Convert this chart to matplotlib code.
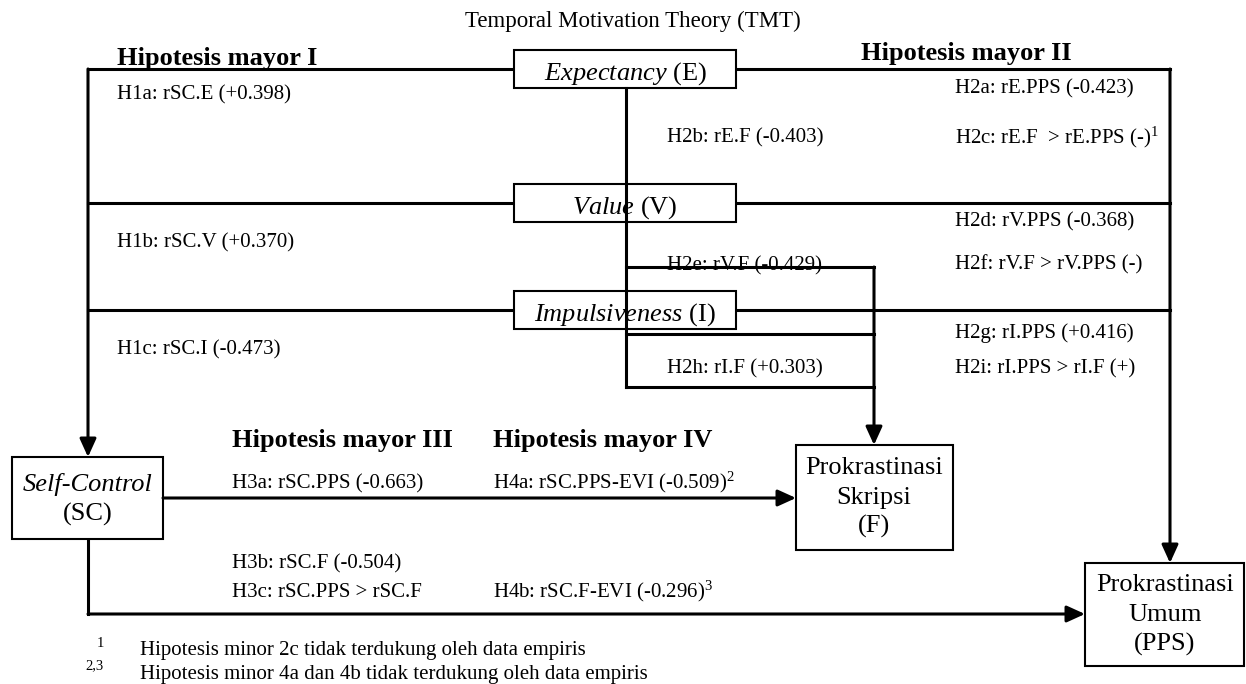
import matplotlib
matplotlib.use("Agg")
import matplotlib.pyplot as plt
from matplotlib.patches import Rectangle, FancyArrowPatch, ArrowStyle

plt.rcParams['font.family'] = ['Liberation Serif', 'DejaVu Serif']
plt.rcParams['mathtext.fontset'] = 'custom'
plt.rcParams['mathtext.rm'] = 'Liberation Serif'
plt.rcParams['mathtext.it'] = 'Liberation Serif:italic'
plt.rcParams['mathtext.bf'] = 'Liberation Serif:bold'

# ---------------- content ----------------
title = "Temporal Motivation Theory (TMT)"
predictor_names = ["Expectancy", "Value", "Impulsiveness"]
predictor_codes = ["E", "V", "I"]
headings = ["Hipotesis mayor I", "Hipotesis mayor II", "Hipotesis mayor III", "Hipotesis mayor IV"]
h1_labels = ["H1a: rSC.E (+0.398)", "H1b: rSC.V (+0.370)", "H1c: rSC.I (-0.473)"]
h2_pps_labels = ["H2a: rE.PPS (-0.423)", "H2c: rE.F  > rE.PPS (-)$^1$",
                 "H2d: rV.PPS (-0.368)", "H2f: rV.F > rV.PPS (-)",
                 "H2g: rI.PPS (+0.416)", "H2i: rI.PPS > rI.F (+)"]
h2_f_labels = ["H2b: rE.F (-0.403)", "H2e: rV.F (-0.429)", "H2h: rI.F (+0.303)"]
h3_labels = ["H3a: rSC.PPS (-0.663)", "H3b: rSC.F (-0.504)", "H3c: rSC.PPS > rSC.F"]
h4_labels = ["H4a: rSC.PPS-EVI (-0.509)$^2$", "H4b: rSC.F-EVI (-0.296)$^3$"]
sc_label = ["Self-Control", "(SC)"]
f_label = ["Prokrastinasi", "Skripsi", "(F)"]
pps_label = ["Prokrastinasi", "Umum", "(PPS)"]
footnote_marks = ["1", "2,3"]
footnotes = ["Hipotesis minor 2c tidak terdukung oleh data empiris",
             "Hipotesis minor 4a dan 4b tidak terdukung oleh data empiris"]

# ---------------- layout (pixels) ----------------
W, H = 1246, 684
fig = plt.figure(figsize=(W / 100, H / 100), dpi=100)
ax = fig.add_axes([0, 0, 1, 1])
ax.set_xlim(0, W)
ax.set_ylim(H, 0)
ax.axis('off')

LW = 2.2
BLW = 1.5
LBL = 15
BOX = 19
HEAD = 19

def line(xs, ys, z=2):
    ax.plot(xs, ys, color='black', lw=LW, solid_capstyle='projecting',
            solid_joinstyle='miter', zorder=z)

def arrow(p0, p1, z=3):
    ax.add_patch(FancyArrowPatch(p0, p1,
                                 arrowstyle=ArrowStyle('-|>', head_length=11, head_width=5),
                                 mutation_scale=1, shrinkA=0, shrinkB=0,
                                 color='black', lw=LW, zorder=z))

def box(x0, y0, x1, y1):
    ax.add_patch(Rectangle((x0, y0), x1 - x0, y1 - y0, facecolor='white',
                           edgecolor='black', lw=BLW, zorder=2))

# title
ax.text(633, 27, title, ha='center', va='baseline', fontsize=16.5)

# predictor boxes and connectors
pbx0, pbx1 = 514, 736
pcy = [69, 203, 310]
left_x, right_x = 88, 1170
for name, code, cy in zip(predictor_names, predictor_codes, pcy):
    line([left_x, pbx0], [cy, cy])
    line([pbx1, right_x], [cy, cy])
    box(pbx0, cy - 19, pbx1, cy + 19)
    ax.text(625, cy + 11, r"$\mathit{%s}$ (%s)" % (name, code), ha='center',
            va='baseline', fontsize=BOX, zorder=4)

# left vertical to SC
sc_box = (12, 457, 163, 539)
arrow((left_x, pcy[0]), (left_x, sc_box[1]))

# right vertical to PPS
pps_box = (1085, 563, 1244, 666)
arrow((right_x, pcy[0]), (right_x, pps_box[1]))

# inner connectors to F
cx = 626
fx = 874
f_box = (796, 445, 953, 550)
line([cx, cx], [88, 387], z=5)
for yy in [267, 334, 387]:
    line([cx, fx], [yy, yy], z=5)
arrow((fx, 267), (fx, f_box[1]), z=5)

# SC -> F
arrow((sc_box[2], 498), (f_box[0], 498))

# SC -> PPS
line([left_x, left_x], [sc_box[3], 614])
arrow((left_x, 614), (pps_box[0], 614))

# outcome boxes
box(*sc_box)
ax.text(88, 491, sc_label[0], ha='center', va='baseline', fontsize=BOX, style='italic', zorder=4)
ax.text(88, 521, sc_label[1], ha='center', va='baseline', fontsize=BOX, zorder=4)

box(*f_box)
for t, yb in zip(f_label, [474, 504, 533]):
    ax.text(874, yb, t, ha='center', va='baseline', fontsize=BOX, zorder=4)

box(*pps_box)
for t, yb in zip(pps_label, [591, 621, 651]):
    ax.text(1165, yb, t, ha='center', va='baseline', fontsize=BOX, zorder=4)

# headings
for t, (x, y) in zip(headings, [(117, 65), (861, 60), (232, 447), (493, 447)]):
    ax.text(x, y, t, ha='left', va='baseline', fontsize=HEAD, fontweight='bold', zorder=4)

# hypothesis labels
for t, y in zip(h1_labels, [99, 247, 354]):
    ax.text(117, y, t, ha='left', va='baseline', fontsize=LBL, zorder=4)
for t, y in zip(h2_pps_labels, [93, 143, 226, 269, 338, 373]):
    ax.text(955, y, t, ha='left', va='baseline', fontsize=LBL, zorder=4)
for t, y in zip(h2_f_labels, [142, 270, 373]):
    ax.text(667, y, t, ha='left', va='baseline', fontsize=LBL, zorder=4)
for t, y in zip(h3_labels, [488, 568, 597]):
    ax.text(232, y, t, ha='left', va='baseline', fontsize=LBL, zorder=4)
for t, y in zip(h4_labels, [488, 597]):
    ax.text(493, y, t, ha='left', va='baseline', fontsize=LBL, zorder=4)

# footnotes
for m, t, xm, ym, y in zip(footnote_marks, footnotes, [97, 85], [647, 669], [655, 679]):
    ax.text(xm, ym, m, ha='left', va='baseline', fontsize=10.5)
    ax.text(140, y, t, ha='left', va='baseline', fontsize=15)

fig.savefig("out.png", dpi=100)
